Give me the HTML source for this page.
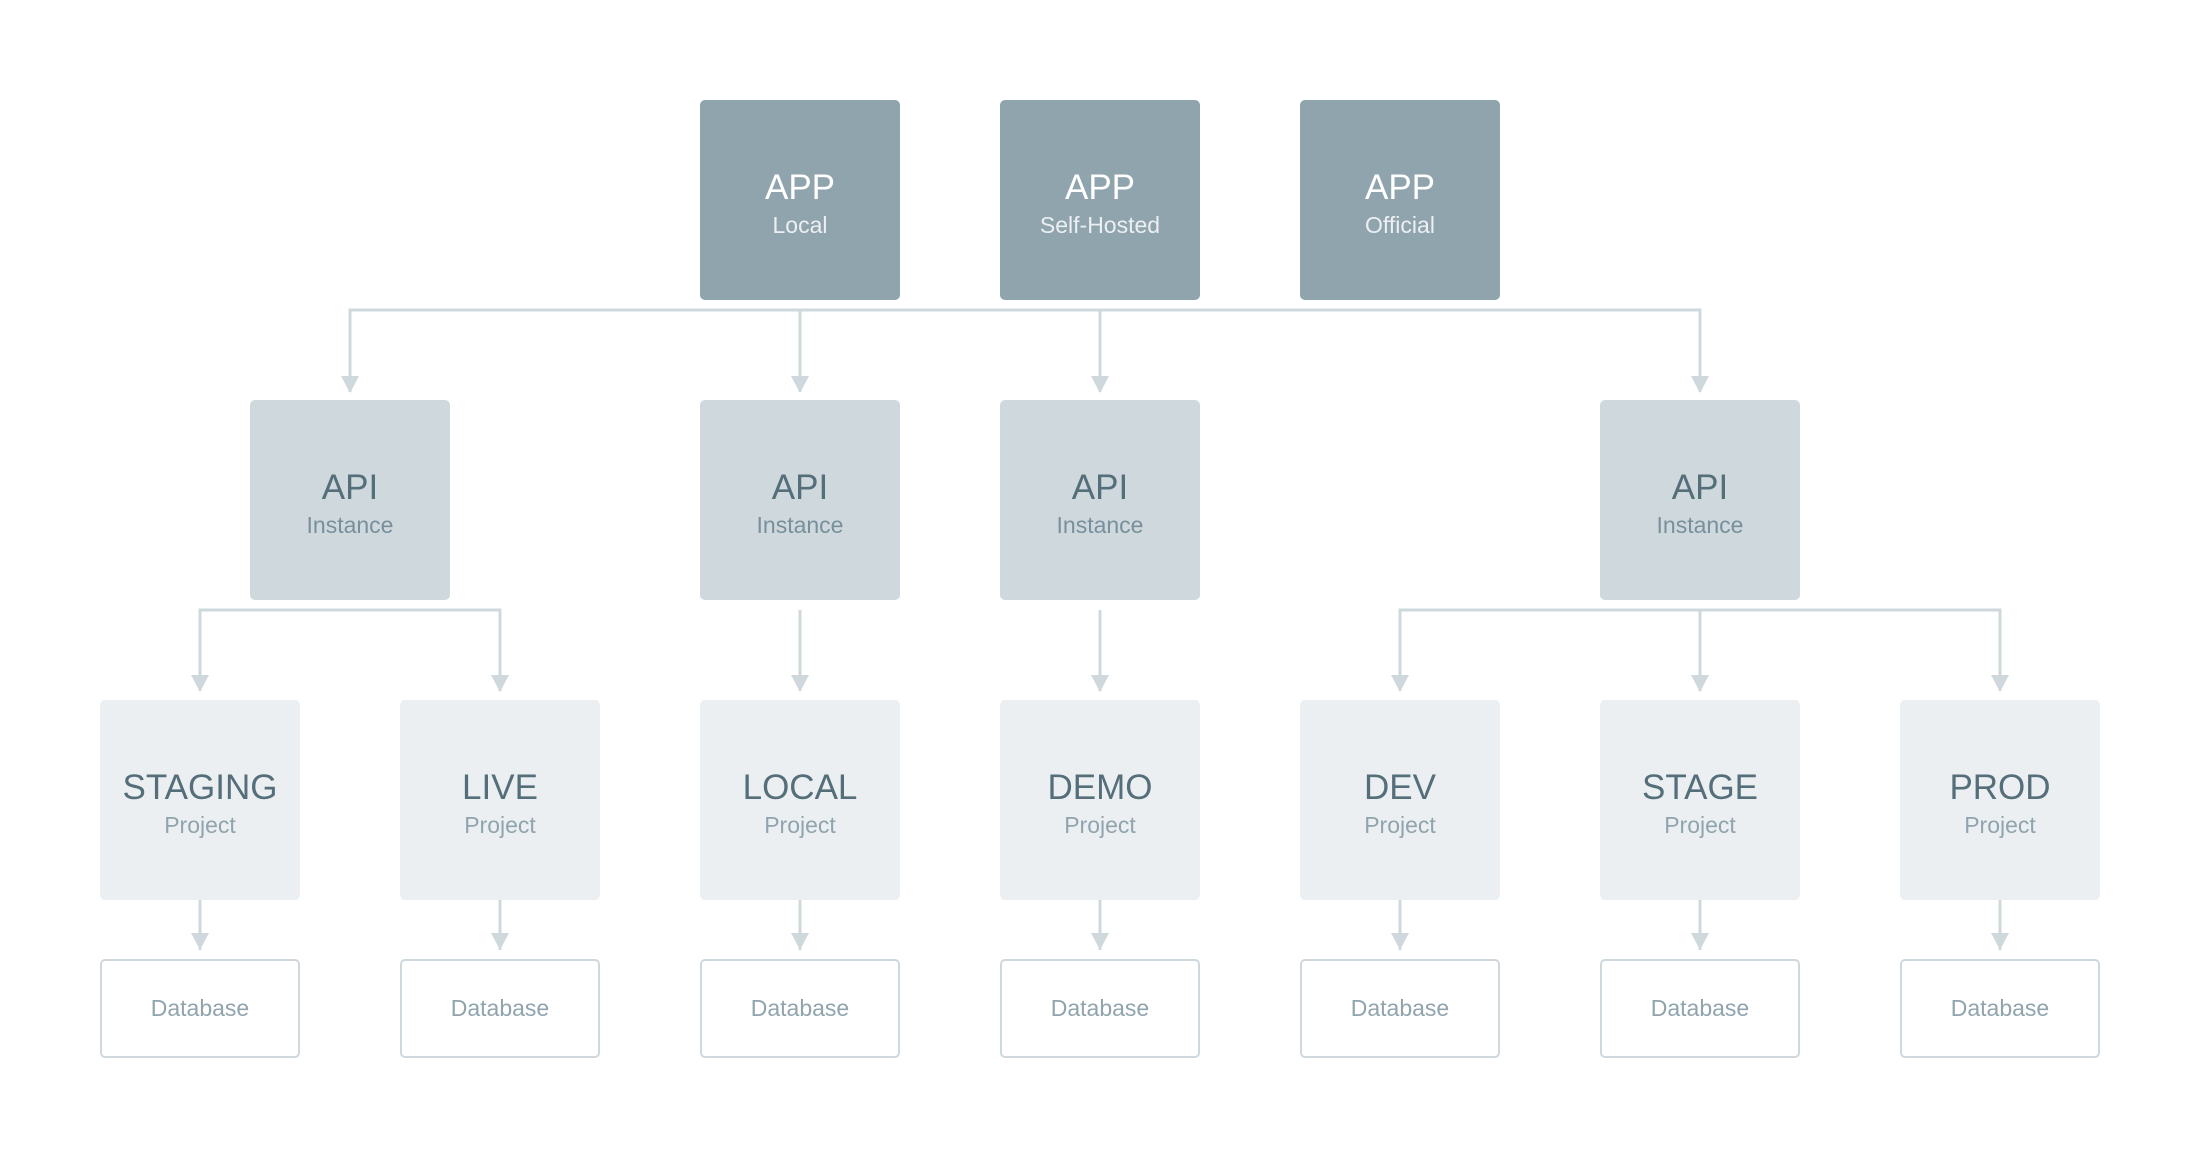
<!DOCTYPE html>
<html><head><meta charset="utf-8"><style>
html,body{margin:0;padding:0;background:#fff;}
svg{display:block;}
text{font-family:"Liberation Sans",sans-serif;text-anchor:middle;}
.t{font-size:35px;}
.s{font-size:23px;}
</style></head><body>
<svg width="2200" height="1160" viewBox="0 0 2200 1160" xmlns="http://www.w3.org/2000/svg">
<g fill="none" stroke="#cfd8dc" stroke-width="3">
<path d="M350 392 V310 H1700 V392"/>
<path d="M800 310 V392 M1100 310 V392"/>
<path d="M200 691 V610 H500 V691"/>
<path d="M800 610 V691 M1100 610 V691"/>
<path d="M1400 691 V610 H2000 V691 M1700 610 V691"/>
<path d="M200 900 V950 M500 900 V950 M800 900 V950 M1100 900 V950 M1400 900 V950 M1700 900 V950 M2000 900 V950"/>
</g>
<g fill="#cfd8dc">
<path d="M341 376 H359 L350 393Z"/><path d="M791 376 H809 L800 393Z"/><path d="M1091 376 H1109 L1100 393Z"/><path d="M1691 376 H1709 L1700 393Z"/>
<path d="M191 675 H209 L200 692Z"/><path d="M491 675 H509 L500 692Z"/><path d="M791 675 H809 L800 692Z"/><path d="M1091 675 H1109 L1100 692Z"/>
<path d="M1391 675 H1409 L1400 692Z"/><path d="M1691 675 H1709 L1700 692Z"/><path d="M1991 675 H2009 L2000 692Z"/>
<path d="M191 933 H209 L200 950Z"/><path d="M491 933 H509 L500 950Z"/><path d="M791 933 H809 L800 950Z"/><path d="M1091 933 H1109 L1100 950Z"/>
<path d="M1391 933 H1409 L1400 950Z"/><path d="M1691 933 H1709 L1700 950Z"/><path d="M1991 933 H2009 L2000 950Z"/>
</g>
<g fill="#90a4ae">
<rect x="700" y="100" width="200" height="200" rx="5"/>
<rect x="1000" y="100" width="200" height="200" rx="5"/>
<rect x="1300" y="100" width="200" height="200" rx="5"/>
</g>
<g fill="#ffffff">
<text x="800" y="199" class="t">APP</text><text x="1100" y="199" class="t">APP</text><text x="1400" y="199" class="t">APP</text>
</g>
<g fill="#eceff1">
<text x="800" y="233" class="s">Local</text><text x="1100" y="233" class="s">Self-Hosted</text><text x="1400" y="233" class="s">Official</text>
</g>
<g fill="#cfd8dc">
<rect x="250" y="400" width="200" height="200" rx="5"/>
<rect x="700" y="400" width="200" height="200" rx="5"/>
<rect x="1000" y="400" width="200" height="200" rx="5"/>
<rect x="1600" y="400" width="200" height="200" rx="5"/>
</g>
<g fill="#546e7a">
<text x="350" y="499" class="t">API</text><text x="800" y="499" class="t">API</text><text x="1100" y="499" class="t">API</text><text x="1700" y="499" class="t">API</text>
</g>
<g fill="#78909c">
<text x="350" y="533" class="s">Instance</text><text x="800" y="533" class="s">Instance</text><text x="1100" y="533" class="s">Instance</text><text x="1700" y="533" class="s">Instance</text>
</g>
<g fill="#eceff1">
<rect x="100" y="700" width="200" height="200" rx="5"/>
<rect x="400" y="700" width="200" height="200" rx="5"/>
<rect x="700" y="700" width="200" height="200" rx="5"/>
<rect x="1000" y="700" width="200" height="200" rx="5"/>
<rect x="1300" y="700" width="200" height="200" rx="5"/>
<rect x="1600" y="700" width="200" height="200" rx="5"/>
<rect x="1900" y="700" width="200" height="200" rx="5"/>
</g>
<g fill="#546e7a">
<text x="200" y="799" class="t">STAGING</text><text x="500" y="799" class="t">LIVE</text><text x="800" y="799" class="t">LOCAL</text><text x="1100" y="799" class="t">DEMO</text><text x="1400" y="799" class="t">DEV</text><text x="1700" y="799" class="t">STAGE</text><text x="2000" y="799" class="t">PROD</text>
</g>
<g fill="#90a4ae">
<text x="200" y="833" class="s">Project</text><text x="500" y="833" class="s">Project</text><text x="800" y="833" class="s">Project</text><text x="1100" y="833" class="s">Project</text><text x="1400" y="833" class="s">Project</text><text x="1700" y="833" class="s">Project</text><text x="2000" y="833" class="s">Project</text>
</g>
<g fill="#fff" stroke="#cfd8dc" stroke-width="2">
<rect x="101" y="960" width="198" height="97" rx="4"/>
<rect x="401" y="960" width="198" height="97" rx="4"/>
<rect x="701" y="960" width="198" height="97" rx="4"/>
<rect x="1001" y="960" width="198" height="97" rx="4"/>
<rect x="1301" y="960" width="198" height="97" rx="4"/>
<rect x="1601" y="960" width="198" height="97" rx="4"/>
<rect x="1901" y="960" width="198" height="97" rx="4"/>
</g>
<g fill="#90a4ae">
<text x="200" y="1016" class="s">Database</text><text x="500" y="1016" class="s">Database</text><text x="800" y="1016" class="s">Database</text><text x="1100" y="1016" class="s">Database</text><text x="1400" y="1016" class="s">Database</text><text x="1700" y="1016" class="s">Database</text><text x="2000" y="1016" class="s">Database</text>
</g>
</svg>
</body></html>
